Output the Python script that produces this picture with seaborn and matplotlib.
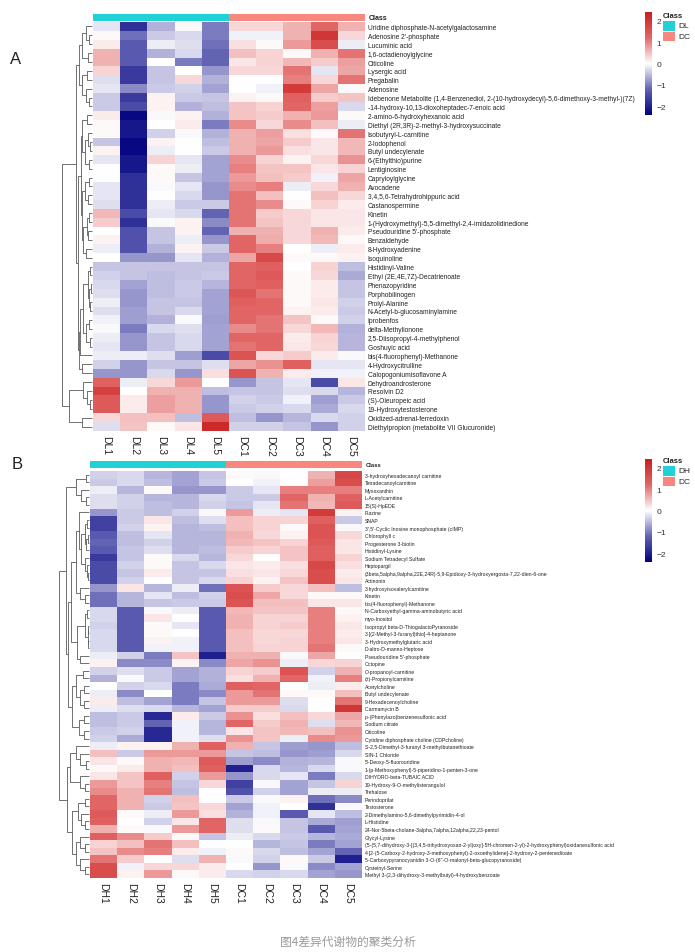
import numpy as np
import pandas as pd
import seaborn as sns
import matplotlib.pyplot as plt
from matplotlib.colors import LinearSegmentedColormap, ListedColormap
from matplotlib.patches import Rectangle

sns.set_theme(style="white")
plt.rcParams['font.family'] = ['Liberation Sans', 'DejaVu Sans']

# ---------------- data: panel A ----------------
a_samples = ['DL1', 'DL2', 'DL3', 'DL4', 'DL5', 'DC1', 'DC2', 'DC3', 'DC4', 'DC5']
a_groups = ['DL', 'DC']
a_rows = [
    'Uridine diphosphate-N-acetylgalactosamine', "Adenosine 2'-phosphate", 'Lucuminic acid',
    '1,6-octadienoylglycine', 'Citicoline', 'Lysergic acid', 'Pregabalin', 'Adenosine',
    'Idebenone Metabolite (1,4-Benzenediol, 2-(10-hydroxydecyl)-5,6-dimethoxy-3-methyl-)(7Z)',
    '-14-hydroxy-10,13-dioxoheptadec-7-enoic acid', '2-amino-6-hydroxyhexanoic acid',
    'Diethyl (2R,3R)-2-methyl-3-hydroxysuccinate', 'Isobutyryl-L-carnitine', '2-Iodophenol',
    'Butyl undecylenate', '6-(Ethylthio)purine', 'Lentiginosine', 'Capryloylglycine', 'Avocadene',
    '3,4,5,6-Tetrahydrohippuric acid', 'Castanospermine', 'Kinetin',
    '1-(Hydroxymethyl)-5,5-dimethyl-2,4-imidazolidinedione', "Pseudouridine 5'-phosphate",
    'Benzaldehyde', '8-Hydroxyadenine', 'Isoquinoline', 'Histidinyl-Valine',
    'Ethyl (2E,4E,7Z)-Decatrienoate', 'Phenazopyridine', 'Porphobilinogen', 'Prolyl-Alanine',
    'N-Acetyl-b-glucosaminylamine', 'Iprobenfos', 'delta-Methylionone',
    '2,5-Diisopropyl-4-methylphenol', 'Goshuyic acid', 'bis(4-fluorophenyl)-Methanone',
    '4-Hydroxycitrulline', 'Calopogoniumisoflavone A', 'Dehydroandrosterone', 'Resolvin D2',
    '(S)-Oleuropeic acid', '19-Hydroxytestosterone', 'Oxidized-adrenal-ferredoxin',
    'Diethylpropion (metabolite VII Glucuronide)',
]
a_values = [
    [-0.2, -1.8, -0.6, -0.05, -1.0, 0.3, 0.3, 0.6, 1.2, 0.6],
    [0.05, -1.1, -0.4, -0.3, -1.0, -0.1, -0.1, 0.6, 2.0, 0.3],
    [0.15, -1.3, -0.15, -0.25, -1.1, 0.25, 0.05, 0.8, 1.6, -0.15],
    [0.6, -1.3, -0.6, -0.3, -1.2, 0.5, 0.35, 0.05, 0.6, 1.1],
    [0.6, -1.3, 0.0, -1.0, -1.2, 0.2, 0.35, 0.55, 0.4, 0.75],
    [0.35, -1.7, -0.45, 0.0, -0.8, 0.3, 0.3, 1.1, -0.2, 0.7],
    [-0.25, -1.7, -0.45, 0.3, -0.6, 0.0, 0.0, 1.0, 0.3, 1.1],
    [-0.2, -0.9, -0.4, -0.35, -0.7, 0.0, -0.1, 1.9, 0.7, 0.05],
    [-0.4, -1.7, 0.1, -0.4, -0.45, 0.1, 0.05, 1.3, 0.4, 0.45],
    [-0.4, -1.5, 0.1, -0.6, -0.5, 0.45, 0.35, 1.2, 0.75, -0.3],
    [0.15, -2.3, -0.05, 0.1, -0.6, 0.45, 0.4, 0.6, 0.8, 0.05],
    [0.05, -2.1, 0.0, 0.15, -1.0, 0.9, 0.3, 0.9, 0.5, -0.15],
    [0.05, -2.1, -0.35, -0.05, -0.6, 0.6, 0.75, 0.25, 0.05, 1.1],
    [-0.45, -2.3, 0.1, 0.0, -0.5, 0.6, 0.7, 0.4, 0.2, 0.55],
    [0.1, -2.3, -0.15, 0.0, -0.4, 0.6, 0.8, 0.25, 0.2, 0.55],
    [-0.2, -2.1, 0.35, -0.2, -0.7, 0.9, 0.35, 0.1, 0.3, 0.85],
    [0.0, -2.1, 0.05, -0.15, -0.7, 1.0, 0.45, 0.45, 0.2, 0.35],
    [0.0, -1.8, 0.05, -0.45, -0.7, 0.8, 0.5, 0.4, -0.1, 0.7],
    [-0.2, -1.8, -0.05, -0.2, -0.8, 0.9, 1.0, -0.15, 0.3, 0.6],
    [-0.2, -1.8, 0.0, -0.3, -0.8, 1.1, 0.5, 0.0, 0.5, 0.3],
    [-0.25, -1.8, -0.15, -0.4, -0.4, 1.1, 0.9, 0.05, 0.35, 0.15],
    [0.55, -1.5, -0.2, -0.3, -1.2, 1.1, 0.4, 0.3, 0.2, 0.2],
    [0.4, -1.8, -0.05, 0.1, -0.9, 1.1, 0.45, 0.3, 0.2, 0.2],
    [0.0, -1.4, -0.45, 0.1, -1.2, 0.6, 0.6, 0.3, 0.6, 0.15],
    [0.1, -1.4, -0.45, -0.15, -0.8, 1.2, 0.65, 0.3, 0.55, 0.05],
    [-0.15, -1.4, -0.6, 0.1, -0.4, 1.2, 1.0, 0.0, -0.15, 0.15],
    [0.0, -0.8, -0.8, -0.2, -0.6, 0.7, 1.7, 0.05, 0.05, 0.1],
    [-0.45, -0.45, -0.45, -0.45, -0.45, 1.2, 1.3, 0.0, 0.35, -0.5],
    [-0.35, -0.45, -0.5, -0.45, -0.4, 1.2, 1.4, 0.05, 0.3, -0.65],
    [-0.3, -0.7, -0.5, -0.4, -0.55, 1.2, 1.3, 0.05, 0.15, -0.45],
    [-0.25, -0.8, -0.5, -0.4, -0.7, 1.45, 1.1, 0.05, 0.15, -0.45],
    [-0.15, -0.8, -0.45, -0.45, -0.7, 1.3, 1.2, 0.05, 0.2, -0.35],
    [-0.25, -0.75, -0.45, -0.3, -0.7, 1.2, 1.2, 0.1, 0.15, -0.4],
    [-0.1, -0.75, -0.6, -0.05, -0.75, 1.2, 1.1, 0.45, 0.05, -0.35],
    [-0.05, -1.0, -0.3, -0.25, -0.7, 0.9, 1.1, 0.3, 0.55, -0.6],
    [-0.15, -0.8, -0.45, -0.3, -0.7, 1.2, 1.2, 0.15, 0.35, -0.55],
    [-0.2, -0.8, -0.45, -0.3, -0.7, 1.1, 1.2, 0.2, 0.3, -0.55],
    [-0.15, -0.15, -0.25, -0.75, -1.5, 1.5, 0.3, 0.4, 0.15, -0.05],
    [-0.35, -0.8, -0.45, -0.45, -0.25, 0.7, 0.85, 1.3, -0.2, -0.2],
    [-0.8, -0.8, -0.3, -0.8, 0.25, 1.5, 0.6, 0.15, -0.1, -0.1],
    [1.3, -0.15, 0.3, 0.8, 0.0, -0.8, -0.45, -0.2, -1.5, 0.2],
    [1.8, 0.0, 0.6, 0.6, -0.5, -0.45, -0.45, -0.25, -0.3, -0.55],
    [1.4, 0.15, 0.75, 0.6, -0.8, -0.35, -0.4, -0.1, -0.75, -0.4],
    [1.4, 0.15, 0.75, 0.6, -0.8, -0.4, -0.35, -0.3, -0.65, -0.3],
    [0.3, 0.5, 0.5, -0.5, 1.4, -0.5, -0.8, -0.55, -0.3, -0.35],
    [-0.25, 0.45, 0.05, 0.2, 2.2, -0.35, -0.35, -0.45, -0.8, -0.35],
]
# row dendrogram: [merge height, left, right], leaves are row indices
a_tree = [1.0,
          [0.52,
           [0.42,
            [0.33, [0.2, 0, [0.1, 1, 2]], [0.15, 3, 4]],
            [0.35, [0.18, 5, 6], [0.2, 7, [0.1, 8, 9]]]],
           [0.47,
            [0.38,
             [0.33, [0.17, 10, 11], [0.25, [0.12, 12, [0.07, 13, 14]], [0.1, 15, 16]]],
             [0.35, [0.22, [0.1, 17, 18], [0.13, 19, 20]],
              [0.3, [0.18, [0.1, 21, 22], [0.12, 23, 24]], [0.2, 25, 26]]]],
            [0.44,
             [0.4, [0.3, [0.15, [0.08, 27, 28], [0.1, [0.05, 29, 30], [0.06, 31, 32]]],
                    [0.2, [0.1, 33, 34], [0.07, 35, 36]]], 37],
             [0.33, 38, 39]]]],
          [0.77,
           [0.3, 40, [0.17, 41, [0.07, 42, 43]]],
           [0.33, 44, 45]]]

# ---------------- data: panel B ----------------
b_samples = ['DH1', 'DH2', 'DH3', 'DH4', 'DH5', 'DC1', 'DC2', 'DC3', 'DC4', 'DC5']
b_groups = ['DH', 'DC']
b_rows = [
    '3-hydroxyhexadecanoyl carnitine', 'Tetradecanoylcarnitine', 'Myxoxanthin', 'L-Acetylcarnitine',
    '15(S)-HpEDE', 'Flazine', 'SNAP', "3',5'-Cyclic Inosine monophosphate (cIMP)", 'Chlorophyll c',
    'Progesterone 3-biotin', 'Histidinyl-Lysine', 'Sodium Tetradecyl Sulfate', 'Heptopargil',
    '(3beta,5alpha,9alpha,22E,24R)-5,9-Epidioxy-3-hydroxyergosta-7,22-dien-6-one', 'Actinonin',
    '3-hydroxyisovalerylcarnitine', 'Kinetin', 'bis(4-fluorophenyl)-Methanone',
    'N-Carboxyethyl-gamma-aminobutyric acid', 'myo-Inositol', 'Isopropyl beta-D-ThiogalactoPyranoside',
    '3-[(2-Methyl-3-furanyl)thio]-4-heptanone', '3-Hydroxymethylglutaric acid',
    'D-altro-D-manno-Heptose', "Pseudouridine 5'-phosphate", 'Octopine', 'O-propanoyl-carnitine',
    '(±)-Propionylcarnitine', 'Acetylcholine', 'Butyl undecylenate', '9-Hexadecenoylcholine',
    'Carmamycin B', 'p-(Phenylazo)benzenesulfonic acid', 'Sodium citrate', 'Citicoline',
    'Cytidine diphosphate choline (CDPcholine)', 'S-2,5-Dimethyl-3-furanyl 3-methylbutanethioate',
    'SIN-1 Chloride', "5'-Deoxy-5-fluorouridine", '1-(p-Methoxyphenyl)-5-piperidino-1-penten-3-one',
    'DIHYDRO-beta-TUBAIC ACID', '19-Hydroxy-9-O-methylisterangulol', 'Trehalose', 'Perindoprilat',
    'Testosterone', '2-Dimethylamino-5,6-dimethylpyrimidin-4-ol', 'L-Histidine',
    '24-Nor-5beta-cholane-3alpha,7alpha,12alpha,22,23-pentol', 'Glycyl-Lysine',
    '(5-(5,7-dihydroxy-3-[(3,4,5-trihydroxyoxan-2-yl)oxy]-5H-chromen-2-yl)-2-hydroxyphenyl)oxidanesulfonic acid',
    '4-[2-(5-Carboxy-2-hydroxy-3-methoxyphenyl)-2-oxoethylidene]-2-hydroxy-2-pentenedioate',
    "5-Carboxypyranocyanidin 3-O-(6''-O-malonyl-beta-glucopyranoside)", 'Cysteinyl-Serine',
    'Methyl 3-(2,3-dihydroxy-3-methylbutyl)-4-hydroxybenzoate',
]
b_values = [
    [-0.35, -0.3, -0.55, -0.7, -0.45, 0.05, -0.05, 0.0, 0.6, 1.7],
    [-0.4, -0.3, -0.5, -0.7, -0.4, 0.0, -0.1, 0.0, 0.75, 1.6],
    [-0.15, -0.55, 0.05, -0.8, -0.8, -0.4, -0.2, 1.0, 1.0, 1.0],
    [-0.25, -0.35, -0.55, -0.55, -0.3, -0.4, -0.4, 1.2, 0.6, 1.3],
    [-0.25, -0.35, -0.5, -0.55, -0.35, -0.45, -0.2, 1.1, 0.55, 1.4],
    [-0.8, -0.4, -0.5, -0.35, -0.05, 0.8, -0.15, -0.2, 1.9, 0.1],
    [-1.6, -0.4, 0.2, -0.5, -0.25, 0.5, 0.35, 0.35, 1.3, -0.4],
    [-1.6, -0.35, 0.1, -0.55, -0.5, 0.5, 0.35, 0.05, 1.5, -0.05],
    [-1.3, -0.5, -0.2, -0.55, -0.55, 0.6, 0.3, 0.1, 1.5, 0.3],
    [-1.2, -0.5, -0.35, -0.55, -0.55, 0.55, 0.45, 0.35, 1.4, 0.2],
    [-1.3, -0.45, -0.25, -0.55, -0.5, 0.4, 0.35, 0.45, 1.3, 0.2],
    [-1.7, -0.45, 0.05, -0.3, -0.55, 0.3, 0.0, 0.45, 1.3, 0.35],
    [-1.5, -0.35, 0.05, -0.45, -0.3, 0.2, 0.15, 0.25, 1.7, 0.25],
    [-1.5, -0.45, 0.15, -0.45, -0.45, 0.25, 0.2, 0.3, 1.6, 0.15],
    [-1.5, -0.35, 0.0, -0.45, -0.3, 0.35, 0.1, 0.45, 1.6, 0.2],
    [-0.8, 0.2, -0.55, -0.15, -1.1, 1.5, 0.4, 0.3, 0.5, -0.5],
    [-1.1, -0.55, -0.2, -0.5, -0.35, 1.6, 0.7, 0.3, 0.05, 0.05],
    [-1.1, -0.55, -0.45, -0.4, -0.4, 1.5, 0.5, 0.5, 0.2, 0.2],
    [-0.3, -1.3, -0.05, -0.15, -1.3, 0.55, 0.45, 0.45, 1.0, 0.05],
    [-0.3, -1.3, 0.2, 0.0, -1.3, 0.6, 0.35, 0.35, 1.0, 0.1],
    [-0.35, -1.3, 0.05, -0.2, -1.3, 0.6, 0.35, 0.4, 1.0, 0.2],
    [-0.3, -1.3, 0.05, 0.0, -1.3, 0.5, 0.3, 0.3, 1.0, 0.15],
    [-0.3, -1.3, 0.1, -0.1, -1.3, 0.5, 0.3, 0.35, 1.0, 0.2],
    [-0.3, -1.3, -0.1, -0.1, -1.3, 0.5, 0.35, 0.35, 1.1, 0.05],
    [-0.15, -0.35, -1.0, 0.45, -2.0, 0.6, 0.6, -0.05, 0.7, 0.0],
    [0.1, -0.9, -0.9, 0.1, -0.9, 0.7, 0.85, -0.15, 0.3, 0.35],
    [-0.35, -0.25, -0.4, -0.7, -0.6, 0.35, 0.4, 1.5, -0.35, 0.6],
    [-0.6, -0.05, -0.4, -0.7, -0.6, 0.25, 0.6, 1.2, -0.1, 1.0],
    [0.0, -0.35, -0.3, -1.0, -0.65, 1.3, 1.2, 0.0, -0.15, 0.15],
    [-0.15, -0.9, 0.0, -1.0, -0.9, 0.8, 1.1, 0.05, 0.05, 0.5],
    [0.15, -0.5, -0.7, -1.0, -0.45, 0.8, 0.8, -0.25, 0.0, 1.1],
    [-0.15, -0.25, -0.3, -0.55, -0.7, 0.4, 0.4, -0.3, 0.0, 2.0],
    [-0.5, -0.4, -1.9, 0.15, -0.4, 0.85, 0.25, 0.5, 0.3, 0.7],
    [-0.5, -0.4, -1.2, -0.1, -0.55, 1.2, 0.4, 0.6, -0.25, 0.55],
    [-0.4, -0.35, -1.9, -0.1, -0.55, 0.2, 0.45, 0.55, 0.5, 0.85],
    [-0.35, -0.65, -1.9, -0.1, -0.25, 0.85, 0.45, -0.15, 0.9, 0.8],
    [-0.15, 0.1, 0.1, 0.6, 1.3, 0.6, -0.45, -0.75, -0.8, -0.5],
    [0.5, -0.4, 0.8, 0.8, 0.8, -0.45, -0.5, -0.8, -0.75, -0.3],
    [0.2, 0.05, 0.6, 0.55, 1.4, -0.75, -0.9, -0.6, -0.55, -0.05],
    [0.05, 0.15, 0.6, 0.5, 1.3, -2.0, -0.3, -0.55, -0.3, -0.05],
    [0.2, 0.45, 1.3, -0.35, 0.8, -0.8, -0.3, -0.2, -1.0, -0.3],
    [0.8, 0.45, 1.0, -0.45, 0.3, -1.6, -0.05, -0.7, -0.45, 0.35],
    [0.9, 0.6, 1.1, -0.5, 0.0, -1.4, -0.35, -0.7, -0.15, -0.15],
    [1.2, 0.6, -0.35, 0.5, 0.0, -0.4, -0.05, 0.1, -1.1, -0.9],
    [1.2, 0.6, -0.4, 0.45, 0.3, -0.7, -0.1, 0.0, -1.8, -0.05],
    [1.4, 0.05, -0.15, 0.8, 0.25, -0.6, -0.1, -1.3, -0.2, -0.5],
    [1.3, 0.0, -0.35, 0.2, 1.2, -0.25, -0.05, -0.45, -0.65, -0.75],
    [0.6, 0.05, -0.05, 0.8, 1.2, -0.25, 0.05, -0.45, -1.3, -0.7],
    [1.3, 0.9, 0.4, 0.05, -0.45, -0.15, -0.3, -0.4, -0.55, -0.65],
    [0.35, 0.5, 1.1, 0.5, 0.0, 0.0, -0.55, -0.45, -1.0, -0.7],
    [0.45, 0.9, 1.0, 0.15, -0.1, 0.05, -0.3, -0.5, -0.7, -1.2],
    [1.1, 0.4, 0.0, -0.25, 0.6, -0.05, -0.35, 0.05, -0.4, -2.0],
    [1.6, -0.1, 0.3, 0.3, 0.15, 0.0, -0.8, -0.05, -0.9, -0.7],
    [1.6, 0.1, 0.8, 0.05, 0.15, -0.3, -0.35, -0.3, -0.7, -0.8],
]
b_tree = [1.0,
          [0.77,
           [0.42, [0.1, 0, 1], [0.27, 2, [0.1, 3, 4]]],
           [0.7,
            [0.6,
             [0.45,
              [0.35, 5, [0.28, [0.15, [0.08, 6, 7], [0.1, [0.05, 8, 9], 10]],
                         [0.13, 11, [0.08, 12, [0.04, 13, 14]]]]],
              [0.3, 15, [0.15, 16, 17]]],
             [0.4, [0.12, [0.06, 18, 19], [0.05, [0.03, 20, 21], [0.03, 22, 23]]], [0.3, 24, 25]]],
            [0.58,
             [0.45, [0.2, 26, 27], [0.3, [0.17, 28, 29], [0.18, 30, 31]]],
             [0.33, [0.17, 32, 33], [0.18, 34, 35]]]]],
          [0.72,
           [0.62, [0.42, 36, [0.3, 37, [0.1, 38, 39]]], [0.3, 40, [0.12, 41, 42]]],
           [0.58,
            [0.38, [0.12, 43, 44], [0.28, 45, [0.14, 46, 47]]],
            [0.42, [0.3, 48, [0.15, 49, 50]], [0.3, 51, [0.12, 52, 53]]]]]]

caption = '图4差异代谢物的聚类分析'

# ---------------- style ----------------
W, H = 695, 953
# navy -> white -> firebrick, a bit stronger in the middle range
cmap = LinearSegmentedColormap.from_list(
    'nwf', [(0.0, '#000080'), (0.25, '#6262B4'), (0.5, '#FFFFFF'),
            (0.75, '#E26666'), (1.0, '#C81E1E')])
group_colors = ['#22D1D6', '#F8887E']
tree_color = '#5a5a5a'


def box(x0, y0, x1, y1):
    # pixel box -> figure fraction rect
    return [x0 / W, 1 - y1 / H, (x1 - x0) / W, (y1 - y0) / H]


def draw_tree(ax, node):
    if isinstance(node, int):
        return node + 0.5, 0.0
    h, left, right = node
    y1, h1 = draw_tree(ax, left)
    y2, h2 = draw_tree(ax, right)
    ax.plot([h1, h, h, h2], [y1, y1, y2, y2], color=tree_color, lw=0.6,
            solid_capstyle='butt', clip_on=False)
    return (y1 + y2) / 2, h


def draw_panel(fig, letter, values, rows, samples, groups, tree, g, row_fs, cls_fs):
    df = pd.DataFrame(values, index=rows, columns=samples)
    n = len(rows)

    ax = fig.add_axes(box(g['x0'], g['y0'], g['x1'], g['y1']))
    cax = fig.add_axes(box(645, g['cb0'], 652, g['cb1']))
    sns.heatmap(df, ax=ax, cmap=cmap, vmin=-2.4, vmax=2.4, cbar_ax=cax,
                cbar_kws={'ticks': [-2, -1, 0, 1, 2]},
                xticklabels=samples, yticklabels=rows)
    ax.tick_params(axis='y', left=False, labelleft=False, right=True, labelright=True,
                   length=0, pad=2, labelsize=row_fs, labelcolor='#222222')
    ax.set_yticklabels(rows, rotation=0)
    ax.tick_params(axis='x', length=0, pad=3, labelsize=7.5, labelcolor='#222222')
    ax.set_xticklabels(samples, rotation=270)
    ax.set_xlabel('')
    ax.set_ylabel('')

    cb = ax.collections[0].colorbar
    cb.outline.set_visible(False)
    cax.tick_params(length=0, labelsize=6, pad=3, labelcolor='#333333')

    # class annotation bar
    bax = fig.add_axes(box(g['x0'], g['b0'], g['x1'], g['b1']))
    codes = [[0] * 5 + [1] * 5]
    sns.heatmap(codes, ax=bax, cmap=ListedColormap(group_colors), cbar=False,
                xticklabels=False, yticklabels=False)
    bax.text(1.012, 0.5, 'Class', transform=bax.transAxes, ha='left', va='center',
             fontsize=cls_fs, fontweight='bold', color='#222222')

    # row dendrogram
    dax = fig.add_axes(box(g['xt'], g['y0'], g['x0'] - 1, g['y1']))
    draw_tree(dax, tree)
    dax.set_ylim(n, 0)
    dax.set_xlim(tree[0], 0)
    dax.axis('off')

    fig.text(g['lx'] / W, 1 - g['ly'] / H, letter, fontsize=12, ha='center', va='center',
             color='#222222')

    # class legend
    ov = fig.add_axes([0, 0, 1, 1], facecolor='none')
    ov.set_xlim(0, W)
    ov.set_ylim(H, 0)
    ov.axis('off')
    ov.text(663, g['leg'] - 5, 'Class', fontsize=5.5, fontweight='bold', va='center',
            color='#222222')
    for i, (name, col) in enumerate(zip(groups, group_colors)):
        top = g['leg'] + i * 10.5
        ov.add_patch(Rectangle((663, top), 12, 9.5, facecolor=col, edgecolor='none'))
        ov.text(678, top + 4.8, name, fontsize=6, va='center', color='#222222')


fig = plt.figure(figsize=(W / 100, H / 100), dpi=100)

geom_a = dict(xt=62, x0=93, x1=365, b0=15, b1=21.5, y0=23, y1=432,
              cb0=13, cb1=116, lx=16, ly=60, leg=22)
geom_b = dict(xt=59, x0=90, x1=362, b0=462, b1=469, y0=472, y1=879,
              cb0=460, cb1=563, lx=17, ly=465, leg=467)

draw_panel(fig, 'A', a_values, a_rows, a_samples, a_groups, a_tree, geom_a, 4.8, 5.0)
draw_panel(fig, 'B', b_values, b_rows, b_samples, b_groups, b_tree, geom_b, 3.7, 4.2)

fig.text(0.5, 1 - 942 / H, caption, ha='center', va='center', fontsize=8.5, color='#9a9a9a',
         family=['Noto Sans CJK SC', 'DejaVu Sans'])

fig.savefig('out.png', dpi=100)
